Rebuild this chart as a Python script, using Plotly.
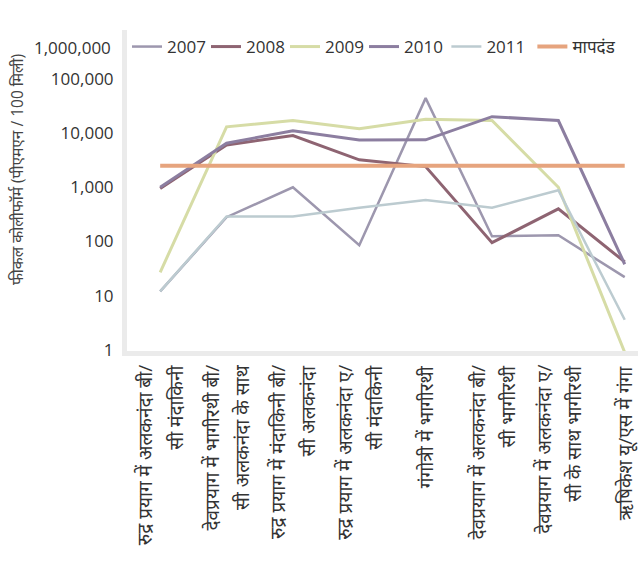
import plotly.graph_objects as go

categories = [
    ["रुद्र प्रयाग में अलकनंदा बी/", "सी मंदाकिनी"],
    ["देवप्रयाग में भागीरथी बी/", "सी अलकनंदा के साथ"],
    ["रुद्र प्रयाग में मंदाकिनी बी/", "सी अलकनंदा"],
    ["रुद्र प्रयाग में अलकनंदा ए/", "सी मंदाकिनी"],
    ["गंगोत्री में भागीरथी"],
    ["देवप्रयाग में अलकनंदा बी/", "सी भागीरथी"],
    ["देवप्रयाग में अलकनंदा ए/", "सी के साथ भागीरथी"],
    ["ऋषिकेश यू/एस में गंगा"],
]

y2007 = [12, 280, 1000, 85, 44000, 125, 130, 22]
y2008 = [950, 6000, 9000, 3200, 2400, 95, 400, 42]
y2009 = [27, 13000, 17000, 12000, 18000, 17000, 1000, 0.9]
y2010 = [1000, 6500, 11000, 7400, 7500, 20000, 17000, 38]
y2011 = [12, 290, 290, 420, 580, 420, 880, 3.6]
standard = [2500] * 8

series_names = ["2007", "2008", "2009", "2010", "2011", "मापदंड"]
series_values = [y2007, y2008, y2009, y2010, y2011, standard]
colors = ["#9d97ae", "#8e6472", "#d6dca6", "#8c7ea0", "#bccbd0", "#e6a47e"]
widths = [2.5, 3, 3, 3, 2.5, 4]
legend_group = ["legend", "legend", "legend", "legend", "legend2", "legend2"]

ytick_vals = [1, 10, 100, 1000, 10000, 100000]
ytick_text = ["1", "10", "100", "1,000", "10,000", "100,000"]
top_label = "1,000,000"
y_title = "फीकल कोलीफॉर्म (पीएमएन / 100 मिली)"

fig = go.Figure()
for name, vals, c, w, lg in zip(series_names, series_values, colors, widths, legend_group):
    fig.add_trace(go.Scatter(
        x=list(range(len(categories))), y=vals, name=name, mode="lines",
        line=dict(color=c, width=w), legend=lg,
    ))

annotations = [dict(
    text=top_label, xref="paper", yref="paper", x=-0.027, y=0.947,
    xanchor="right", yanchor="middle", showarrow=False,
    font=dict(size=17, color="#333"),
), dict(
    text=y_title, xref="paper", yref="paper", x=-0.215, y=0.564,
    xanchor="center", yanchor="middle", textangle=-90, showarrow=False,
    font=dict(size=15.5, color="#444"),
)]
for i, lines in enumerate(categories):
    n = len(lines)
    for j, line in enumerate(lines):
        shift = 0 if n == 1 else (-15 if j == 0 else 15)
        annotations.append(dict(
            text=line, xref="x", yref="paper", x=i, y=0, yshift=-12,
            xshift=shift, xanchor="center", yanchor="top", textangle=-90,
            showarrow=False, font=dict(size=19, color="#333"),
        ))

legend_common = dict(
    orientation="h", y=0.947, xanchor="left", yanchor="middle",
    font=dict(size=17, color="#333"), bgcolor="rgba(0,0,0,0)",
    entrywidthmode="pixels", itemwidth=30,
)

fig.update_layout(
    width=638, height=563,
    margin=dict(l=127, r=0, t=30, b=212),
    paper_bgcolor="white", plot_bgcolor="white",
    font=dict(family="Open Sans, Noto Sans, sans-serif", color="#333"),
    showlegend=True,
    legend=dict(x=0, entrywidth=34, **legend_common),
    legend2=dict(x=0.625, entrywidth=41, **legend_common),
    xaxis=dict(
        range=[-0.5, 7.2], tickmode="array",
        tickvals=list(range(len(categories))), showticklabels=False,
        showgrid=False, zeroline=False, showline=True, automargin=False,
        linecolor="#ebebeb", linewidth=5, ticks="",
    ),
    yaxis=dict(
        type="log", range=[-0.02, 5.9],
        tickvals=ytick_vals, ticktext=ytick_text,
        tickfont=dict(size=17, color="#333"),
        showgrid=False, zeroline=False, showline=True, automargin=False,
        linecolor="#ebebeb", linewidth=5, ticks="", ticklabelstandoff=5,
    ),
    annotations=annotations,
)

fig.write_html("out.html", config={"displayModeBar": False},
               post_script="document.body.style.margin='0';")
